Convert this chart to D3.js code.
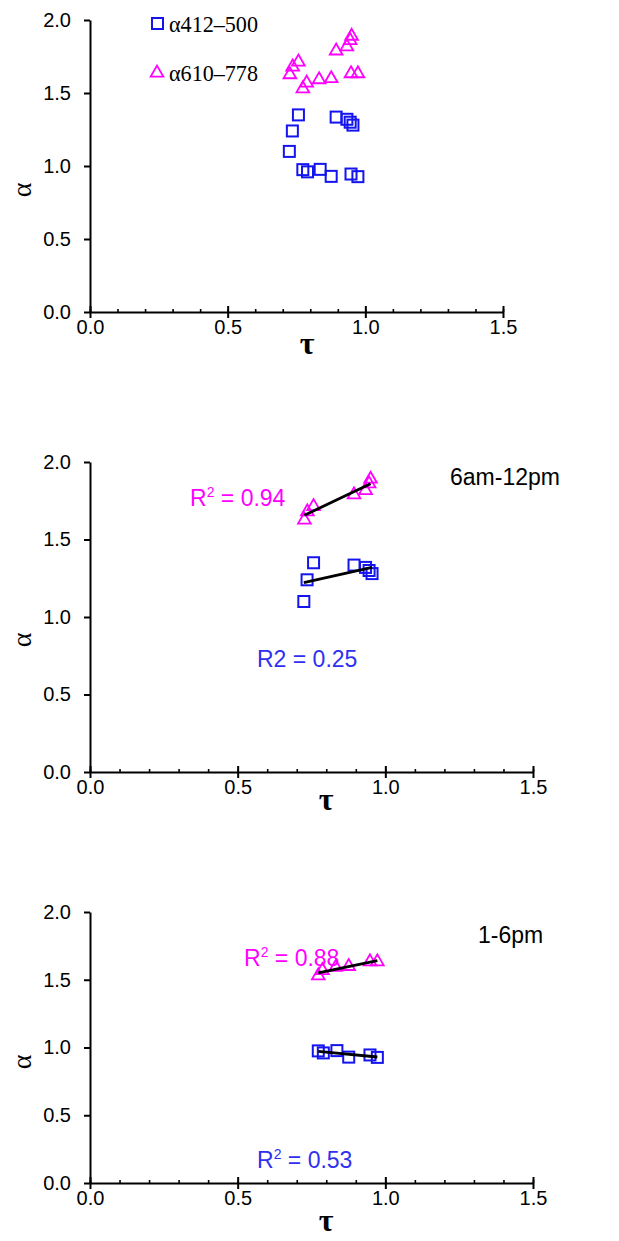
<!DOCTYPE html>
<html>
<head>
<meta charset="utf-8">
<script src="https://cdn.jsdelivr.net/npm/d3@7"></script>
<style>
  body { margin: 0; background: #fff; }
  svg { display: block; }
</style>
</head>
<body>
<svg width="619" height="1241"></svg>
<script>
// data
var tauAmBlue   = [0.724, 0.735, 0.757, 0.894, 0.933, 0.945, 0.955];
var alphaAmBlue = [1.10, 1.24, 1.35, 1.335, 1.32, 1.30, 1.28];
var tauPmBlue   = [0.773, 0.790, 0.836, 0.876, 0.948, 0.973];
var alphaPmBlue = [0.975, 0.96, 0.977, 0.929, 0.945, 0.927];
var tauAmPink   = [0.726, 0.736, 0.757, 0.894, 0.933, 0.945, 0.950];
var alphaAmPink = [1.626, 1.679, 1.713, 1.789, 1.817, 1.86, 1.89];
var tauPmPink   = [0.773, 0.787, 0.832, 0.876, 0.948, 0.973];
var alphaPmPink = [1.53, 1.569, 1.592, 1.599, 1.633, 1.633];

var xTicks = [0, 0.5, 1.0, 1.5];
var yTicks = [0, 0.5, 1.0, 1.5, 2.0];
var legendLabels = ["\u03b1412\u2013500", "\u03b1610\u2013778"];

var blue = "#1414ee", pink = "#ff00ff";
var sans = "'Liberation Sans', Arial, sans-serif", serif = "'Liberation Serif', 'Times New Roman', serif";

var svg = d3.select("svg");

function zip(t, a) { return t.map(function(d, i) { return [d, a[i]]; }); }

// least squares line
function fit(pts) {
    var mx = d3.mean(pts, function(d) { return d[0]; }),
        my = d3.mean(pts, function(d) { return d[1]; });
    var sxy = d3.sum(pts, function(d) { return (d[0] - mx) * (d[1] - my); }),
        sxx = d3.sum(pts, function(d) { return (d[0] - mx) * (d[0] - mx); });
    var b = sxy / sxx;
    return function(x) { return my + b * (x - mx); };
}

var panels = [
    { left: 90, right: 503, top: 20, bottom: 312, tauX: 307, tauDy: 42, alphaY: 190,
      groups: [[zip(tauAmBlue, alphaAmBlue), "sq"], [zip(tauPmBlue, alphaPmBlue), "sq"],
               [zip(tauAmPink, alphaAmPink), "tri"], [zip(tauPmPink, alphaPmPink), "tri"]],
      trend: false },
    { left: 90, right: 533, top: 462, bottom: 772, tauX: 326, tauDy: 38, alphaY: 640,
      groups: [[zip(tauAmBlue, alphaAmBlue), "sq"], [zip(tauAmPink, alphaAmPink), "tri"]],
      trend: true },
    { left: 90, right: 533, top: 912, bottom: 1183, tauX: 326, tauDy: 48, alphaY: 1062,
      groups: [[zip(tauPmBlue, alphaPmBlue), "sq"], [zip(tauPmPink, alphaPmPink), "tri"]],
      trend: true }
];

var tri = d3.symbol().type(d3.symbolTriangle).size(70);

panels.forEach(function(p) {
    var x = d3.scaleLinear().domain([0, 1.5]).range([p.left, p.right]);
    var y = d3.scaleLinear().domain([0, 2]).range([p.bottom, p.top]);
    var g = svg.append("g");

    // minor ticks along tau
    g.append("g")
        .attr("transform", "translate(0," + p.bottom + ")")
        .call(d3.axisTop(x).ticks(15).tickSize(3).tickFormat(""))
        .call(function(s) { s.select(".domain").remove(); })
        .selectAll("line").attr("stroke-width", 1.6);

    // x axis, major ticks cross the line
    var xa = g.append("g")
        .attr("transform", "translate(0," + p.bottom + ")")
        .call(d3.axisBottom(x).tickValues(xTicks).tickFormat(d3.format(".1f"))
              .tickSize(6).tickSizeOuter(0).tickPadding(2));
    xa.select(".domain").attr("stroke-width", 2);
    xa.selectAll(".tick line").attr("y1", -6).attr("stroke-width", 2);
    xa.selectAll(".tick text").style("font-family", sans).style("font-size", "20px");

    var ya = g.append("g")
        .attr("transform", "translate(" + p.left + ",0)")
        .call(d3.axisLeft(y).tickValues(yTicks).tickFormat(d3.format(".1f"))
              .tickSize(6).tickSizeOuter(0).tickPadding(13));
    ya.select(".domain").attr("stroke-width", 2);
    ya.selectAll(".tick line").attr("stroke-width", 2);
    ya.selectAll(".tick text").style("font-family", sans).style("font-size", "20px");

    g.append("text")
        .attr("x", p.tauX).attr("y", p.bottom + p.tauDy)
        .attr("text-anchor", "middle")
        .style("font-family", serif).style("font-size", "32px").style("font-weight", "bold")
        .text("\u03c4");

    g.append("text")
        .attr("transform", "translate(31," + p.alphaY + ") rotate(-90)")
        .attr("text-anchor", "middle")
        .style("font-family", serif).style("font-size", "28px")
        .text("\u03b1");

    p.groups.forEach(function(gr) {
        var pts = gr[0], kind = gr[1], col = kind == "sq" ? blue : pink;
        if (kind == "sq") {
            g.selectAll(null).data(pts).enter().append("rect")
                .attr("x", function(d) { return x(d[0]) - 5.5; })
                .attr("y", function(d) { return y(d[1]) - 5.5; })
                .attr("width", 11).attr("height", 11)
                .attr("fill", "none").attr("stroke", col).attr("stroke-width", 2);
        } else {
            g.selectAll(null).data(pts).enter().append("path")
                .attr("d", tri)
                .attr("transform", function(d) { return "translate(" + x(d[0]) + "," + y(d[1]) + ")"; })
                .attr("fill", "none").attr("stroke", col).attr("stroke-width", 1.8);
        }
        if (p.trend) {
            var f = fit(pts), ext = d3.extent(pts, function(d) { return d[0]; });
            g.append("line")
                .attr("x1", x(ext[0])).attr("y1", y(f(ext[0])))
                .attr("x2", x(ext[1])).attr("y2", y(f(ext[1])))
                .attr("stroke", "#000").attr("stroke-width", 2.8);
        }
    });
});

// legend in the first panel
var leg = svg.append("g");
leg.append("rect").attr("x", 152).attr("y", 18).attr("width", 11).attr("height", 11)
    .attr("fill", "none").attr("stroke", blue).attr("stroke-width", 2);
leg.append("path").attr("d", tri).attr("transform", "translate(157,73)")
    .attr("fill", "none").attr("stroke", pink).attr("stroke-width", 1.8);
leg.selectAll(".lab").data(legendLabels).enter().append("text")
    .attr("x", 169).attr("y", function(d, i) { return 32 + i * 49; })
    .style("font-family", serif).style("font-size", "23px")
    .attr("textLength", 89).attr("lengthAdjust", "spacingAndGlyphs")
    .text(function(d) { return d; });

// annotations
function note(xp, yp, txt, col, sup) {
    var t = svg.append("text").attr("x", xp).attr("y", yp)
        .style("font-family", sans).style("font-size", "23px")
        .attr("fill", col);
    if (sup) {
        t.append("tspan").text("R");
        t.append("tspan").attr("dy", -9).style("font-size", "14px").text("2");
        t.append("tspan").attr("dy", 9).text(" = " + txt);
    } else {
        t.text(txt);
    }
}
note(450, 485, "6am-12pm", "#000", false);
note(190, 506, "0.94", pink, true);
note(257, 667, "R2 = 0.25", "#3030f0", false);
note(478, 943, "1-6pm", "#000", false);
note(244, 966, "0.88", pink, true);
note(257, 1168, "0.53", "#3030f0", true);
</script>
</body>
</html>
